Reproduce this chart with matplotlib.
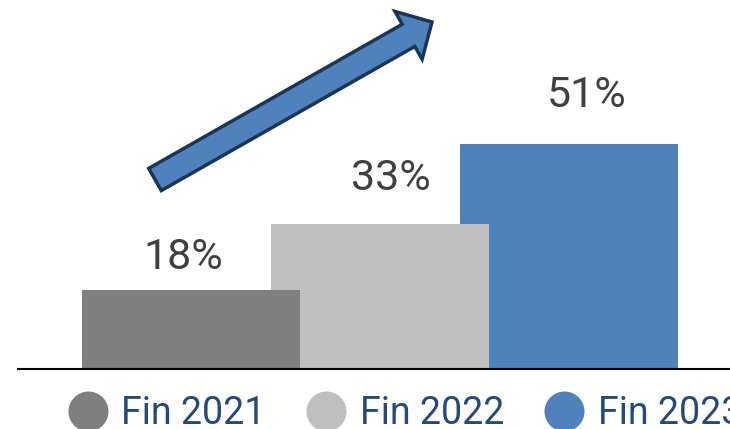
import matplotlib
matplotlib.use("Agg")
import matplotlib.pyplot as plt
from matplotlib.lines import Line2D
from matplotlib.patches import FancyArrow

# share of the target reached at the end of each year
periods = ["Fin 2021", "Fin 2022", "Fin 2023"]
shares = [18, 33, 51]
bar_colors = ["#7f7f7f", "#bfbfbf", "#4f81bd"]

# label nudges (x in bar units, y in percentage points above the bar)
label_dx = [-0.04, 0.06, 0.095]
label_dy = [7.4, 10.1, 11.1]

plt.rcParams["font.family"] = ["Roboto", "DejaVu Sans"]

fig = plt.figure(figsize=(7.3, 4.29), dpi=100)
ax = fig.add_axes([18 / 730, 60 / 429, 712 / 730, 369 / 429])

# bars overlap; earlier years sit in front of later ones
n = len(shares)
for i, (v, c) in enumerate(zip(shares, bar_colors)):
    ax.bar(i, v, width=1.153, color=c, linewidth=0, zorder=n - i)

for x, v, dx, dy in zip(range(n), shares, label_dx, label_dy):
    ax.text(x + dx, v + dy, f"{v}%", ha="center", va="center",
            fontsize=31, color="#404040")

ax.set_xlim(-0.915, 2.852)
ax.set_ylim(0, 83.7)
for side in ("top", "right", "left"):
    ax.spines[side].set_visible(False)
ax.spines["bottom"].set_color("black")
ax.spines["bottom"].set_linewidth(1.5)
ax.spines["bottom"].set_zorder(10)
ax.set_xticks([])
ax.set_yticks([])

# growth arrow, laid out in inches from the bottom-left corner
arrow = FancyArrow(1.55, 2.495, 2.77, 1.575, width=0.255,
                   head_width=0.55, head_length=0.27,
                   length_includes_head=True,
                   facecolor="#4f81bd", edgecolor="#1b3556", linewidth=2.5,
                   transform=fig.dpi_scale_trans)
fig.patches.append(arrow)

handles = [Line2D([], [], linestyle="none", marker="o", markersize=28.8,
                  markerfacecolor=c, markeredgewidth=0) for c in bar_colors]
fig.legend(handles, periods, loc="center left", ncol=3,
           bbox_to_anchor=(67 / 730, 15 / 429), frameon=False,
           fontsize=27, labelcolor="#234a7b",
           handlelength=1.1, handletextpad=0.35, columnspacing=1.05,
           borderpad=0, borderaxespad=0)

fig.savefig("out.png", dpi=100)
